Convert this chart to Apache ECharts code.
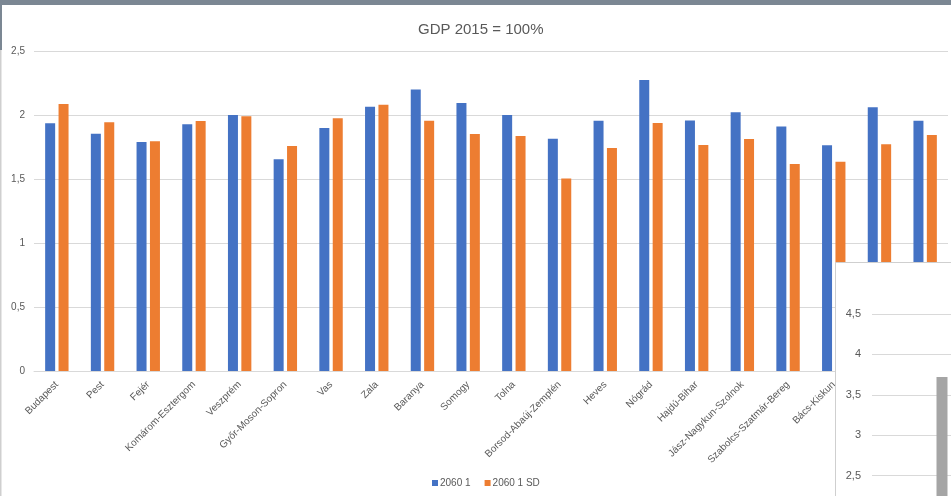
<!DOCTYPE html>
<html>
<head>
<meta charset="utf-8">
<script src="https://cdn.jsdelivr.net/npm/echarts@6/dist/echarts.min.js"></script>
<style>html,body{margin:0;padding:0;background:#fff;overflow:hidden;width:951px;height:496px;}#c{width:1100px;height:540px;}</style>
</head>
<body>
<div id="c"></div>
<script>
const categories = ['Budapest','Pest','Fejér','Komárom-Esztergom','Veszprém','Győr-Moson-Sopron','Vas','Zala','Baranya','Somogy','Tolna','Borsod-Abaúj-Zemplén','Heves','Nógrád','Hajdú-Bihar','Jász-Nagykun-Szolnok','Szabolcs-Szatmár-Bereg','Bács-Kiskun','Békés','Csongrád'];
const series1 = [1.935,1.854,1.789,1.927,2.0,1.654,1.898,2.065,2.20,2.094,2.0,1.815,1.956,2.273,1.958,2.021,1.911,1.763,2.06,1.956];
const series2 = [2.086,1.943,1.794,1.953,1.99,1.758,1.974,2.081,1.956,1.852,1.836,1.503,1.742,1.938,1.766,1.812,1.617,1.635,1.771,1.844];
const yTicks = [0,0.5,1,1.5,2,2.5];
const overlayCategories = [''];
const overlayValues = [3.72];
const overlayTicks = [2,2.5,3,3.5,4,4.5];

const FONT = "'Liberation Sans', Arial, sans-serif";
const TXT = '#595959';
const GRID = '#d9d9d9';
const fmt = v => String(v).replace('.', ',');

const chart = echarts.init(document.getElementById('c'), null, {renderer:'canvas'});
chart.setOption({
  animation: false,
  textStyle: {fontFamily: FONT},
  title: {
    text: 'GDP 2015 = 100%', left: 413, top: 17,
    textStyle: {fontFamily: FONT, fontSize: 15, fontWeight: 'normal', color: TXT}
  },
  legend: {
    data: ['2060 1', '2060 1 SD'], left: 427, top: 473,
    itemWidth: 6, itemHeight: 6, itemGap: 14, icon: 'rect',
    textStyle: {fontFamily: FONT, fontSize: 10, color: TXT, padding: [0,0,0,-3]}
  },
  grid: [
    {left: 34, width: 914, top: 51, height: 320},
    {left: 872, top: 314, width: 140, height: 202, zlevel: 1, z: 5}
  ],
  xAxis: [
    {
      type: 'category', data: categories, gridIndex: 0,
      axisLine: {lineStyle: {color: GRID}}, axisTick: {show: false},
      axisLabel: {rotate: 45, interval: 0, fontSize: 10, color: TXT, margin: 12, fontFamily: FONT}
    },
    {
      type: 'category', data: overlayCategories, gridIndex: 1, zlevel: 1, z: 5,
      axisLine: {show: false}, axisTick: {show: false}, axisLabel: {show: false}
    }
  ],
  yAxis: [
    {
      type: 'value', gridIndex: 0, min: yTicks[0], max: yTicks[yTicks.length-1], interval: 0.5,
      axisLine: {show: false}, axisTick: {show: false},
      splitLine: {lineStyle: {color: GRID}},
      axisLabel: {formatter: fmt, fontSize: 10, color: TXT, margin: 9, fontFamily: FONT}
    },
    {
      type: 'value', gridIndex: 1, zlevel: 1, z: 5,
      min: overlayTicks[0], max: overlayTicks[overlayTicks.length-1], interval: 0.5,
      axisLine: {show: false}, axisTick: {show: false},
      splitLine: {lineStyle: {color: GRID}},
      axisLabel: {formatter: fmt, fontSize: 11, color: TXT, margin: 11, fontFamily: FONT}
    }
  ],
  series: [
    {name: '2060 1', type: 'bar', data: series1, barWidth: 10, barGap: '34%',
     itemStyle: {color: '#4472C4'}, xAxisIndex: 0, yAxisIndex: 0},
    {name: '2060 1 SD', type: 'bar', data: series2, barWidth: 10, barGap: '34%',
     itemStyle: {color: '#ED7D31'}, xAxisIndex: 0, yAxisIndex: 0},
    {name: 'overlay', type: 'bar', data: overlayValues, barWidth: 11,
     itemStyle: {color: '#A5A5A5'}, xAxisIndex: 1, yAxisIndex: 1, zlevel: 1, z: 6}
  ],
  graphic: [
    {type: 'rect', zlevel: 1, z: -1, shape: {x: 835.5, y: 262.5, width: 280, height: 290},
     style: {fill: '#ffffff', stroke: '#cfcfcf', lineWidth: 1}},
    {type: 'rect', zlevel: 2, z: 10, shape: {x: 0, y: 0, width: 1100, height: 5},
     style: {fill: '#7b8793'}},
    {type: 'rect', zlevel: 2, z: 10, shape: {x: 0, y: 0, width: 2, height: 50},
     style: {fill: '#7b8793'}},
    {type: 'rect', zlevel: 2, z: 10, shape: {x: 0, y: 50, width: 1.5, height: 490},
     style: {fill: '#cfcfcf'}}
  ]
});
</script>
</body>
</html>
